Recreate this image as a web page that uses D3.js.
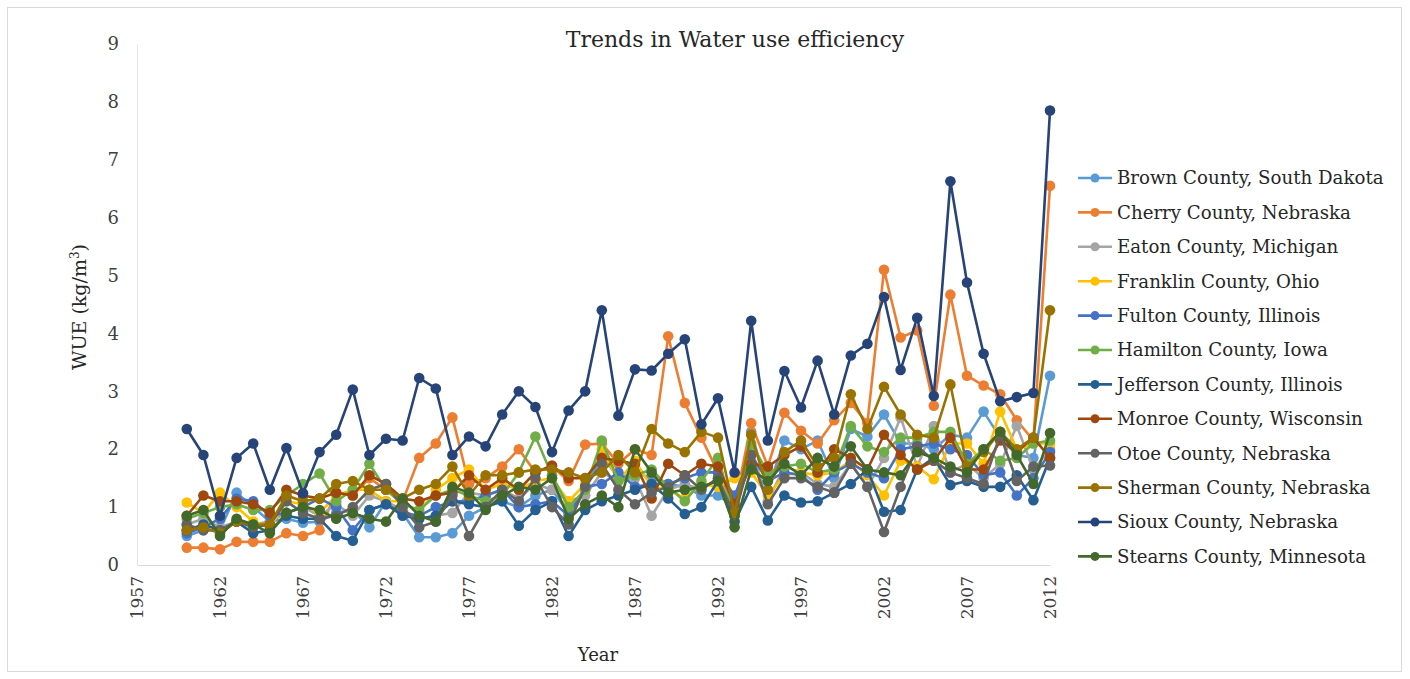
<!DOCTYPE html>
<html><head><meta charset="utf-8">
<script src="https://cdn.jsdelivr.net/npm/d3@7"></script>
<style>body{margin:0;background:#fff;}svg{display:block;font-family:"DejaVu Serif",serif;}</style>
</head><body><svg id="c" width="1410" height="679"></svg>
<script>
const years = d3.range(1960, 2013);
const seriesNames = ["Brown County, South Dakota","Cherry County, Nebraska","Eaton County, Michigan","Franklin County, Ohio","Fulton County, Illinois","Hamilton County, Iowa","Jefferson County, Illinois","Monroe County, Wisconsin","Otoe County, Nebraska","Sherman County, Nebraska","Sioux County, Nebraska","Stearns County, Minnesota"];
const seriesColors = ["#5B9BD5","#ED7D31","#A5A5A5","#FFC000","#4472C4","#70AD47","#255E91","#9E480E","#636363","#997300","#264478","#43682B"];
const xTicks = [1957,1962,1967,1972,1977,1982,1987,1992,1997,2002,2007,2012];
const yTicks = [0,1,2,3,4,5,6,7,8,9];

const brown = [0.5,0.6,0.6,1.25,1.0,0.75,0.8,0.73,0.75,0.9,0.95,0.65,1.1,0.9,0.48,0.48,0.55,0.85,1.0,1.1,1.0,1.2,1.3,0.9,1.3,1.9,1.5,1.6,1.5,1.4,1.35,1.2,1.2,1.0,2.3,1.3,2.15,2.0,2.15,1.5,2.35,2.22,2.6,2.1,2.1,2.0,2.25,2.2,2.65,2.2,1.9,1.85,3.27];
const cherry = [0.3,0.3,0.27,0.4,0.4,0.4,0.55,0.5,0.6,1.25,1.2,1.5,1.3,1.1,1.85,2.1,2.55,1.4,1.5,1.7,2.0,1.6,1.7,1.45,2.08,2.1,1.75,2.0,1.9,3.95,2.8,2.2,1.6,1.0,2.45,1.7,2.63,2.32,2.1,2.5,2.8,2.45,5.1,3.93,4.05,2.75,4.67,3.27,3.1,2.95,2.5,2.15,6.55];
const eaton = [0.7,0.8,0.65,0.75,0.7,0.75,0.9,1.0,0.85,1.05,0.85,1.2,1.1,0.95,0.8,0.85,0.9,1.25,1.2,1.3,1.15,1.4,1.3,1.1,1.2,1.6,1.45,1.5,0.85,1.3,1.4,1.3,1.5,0.9,2.0,1.1,1.7,1.6,1.4,1.35,1.75,1.35,1.85,2.55,1.7,2.4,1.6,1.75,1.5,1.75,2.4,1.65,2.0];
const franklin = [1.08,0.9,1.25,1.0,0.75,0.65,1.1,1.05,0.9,1.2,1.3,1.3,1.1,1.1,0.9,1.3,1.5,1.65,1.3,1.4,1.3,1.45,1.5,1.1,1.4,2.0,1.45,1.8,1.35,1.3,1.15,1.4,1.35,1.5,1.6,1.2,1.55,1.6,1.55,1.6,1.8,1.55,1.2,1.8,1.7,1.48,2.1,2.1,1.75,2.65,2.0,2.1,2.1];
const fulton = [0.55,0.65,0.8,1.15,1.1,0.85,0.9,1.0,1.15,1.0,0.6,0.95,1.05,0.9,0.85,1.0,1.1,1.1,1.2,1.3,1.0,1.05,1.1,0.85,1.35,1.4,1.6,1.35,1.4,1.4,1.5,1.6,1.6,1.2,1.9,1.45,1.6,1.55,1.3,1.6,1.75,1.6,1.5,2.0,2.05,2.1,2.0,1.9,1.55,1.6,1.2,1.5,1.95];
const hamilton = [0.8,0.9,1.0,1.05,0.95,0.95,1.2,1.4,1.58,1.1,1.3,1.75,1.3,1.05,0.95,1.2,1.3,1.2,1.1,1.2,1.6,2.22,1.55,1.0,1.3,2.15,1.45,1.55,1.65,1.35,1.1,1.45,1.85,0.85,2.1,1.6,1.7,1.75,1.6,1.65,2.4,2.05,1.95,2.2,2.2,2.3,2.3,1.75,2.0,1.8,1.85,2.1,2.15];
const jefferson = [0.6,0.7,0.6,0.75,0.55,0.6,0.85,0.8,0.8,0.5,0.42,0.95,1.05,0.85,0.8,0.85,1.1,1.05,1.0,1.1,0.68,0.95,1.1,0.5,0.95,1.1,1.2,1.3,1.4,1.15,0.88,1.0,1.45,0.75,1.35,0.77,1.2,1.08,1.1,1.25,1.4,1.65,0.92,0.95,1.65,1.85,1.38,1.45,1.35,1.35,1.55,1.12,1.85];
const monroe = [0.85,1.2,1.1,1.1,1.05,0.9,1.3,1.2,1.15,1.25,1.2,1.55,1.4,1.15,1.1,1.2,1.25,1.55,1.3,1.5,1.3,1.6,1.72,1.5,1.5,1.85,1.8,1.75,1.15,1.75,1.55,1.75,1.7,1.05,1.75,1.7,1.9,2.05,1.6,2.0,1.85,1.65,2.25,1.9,1.65,1.8,2.2,1.65,1.65,2.15,1.95,2.2,1.85];
const otoe = [0.7,0.6,0.6,0.75,0.65,0.7,1.1,0.9,0.8,0.85,1.0,1.3,1.4,1.0,0.65,0.75,1.2,0.5,1.0,1.3,1.1,1.5,1.0,0.7,1.35,1.75,1.3,1.05,1.25,1.35,1.55,1.3,1.5,0.85,1.9,1.05,1.5,1.5,1.35,1.25,1.75,1.35,0.57,1.35,2.05,1.8,1.6,1.5,1.4,2.25,1.45,1.7,1.72];
const sherman = [0.6,0.65,0.55,0.75,0.7,0.7,1.2,1.1,1.15,1.4,1.45,1.3,1.3,1.15,1.3,1.4,1.7,1.2,1.55,1.55,1.6,1.65,1.65,1.6,1.5,1.6,1.9,1.6,2.35,2.1,1.95,2.3,2.2,0.9,2.25,1.3,1.95,2.15,1.7,1.85,2.95,2.35,3.08,2.6,2.25,2.2,3.12,1.7,1.95,2.3,2.0,2.2,4.4];
const sioux = [2.35,1.9,0.85,1.85,2.1,1.3,2.02,1.24,1.95,2.25,3.03,1.9,2.18,2.15,3.23,3.05,1.9,2.22,2.05,2.6,3.0,2.73,1.95,2.67,3.0,4.4,2.58,3.38,3.36,3.65,3.9,2.43,2.88,1.6,4.22,2.15,3.35,2.72,3.53,2.6,3.62,3.82,4.63,3.37,4.27,2.92,6.63,4.88,3.65,2.83,2.9,2.97,7.85];
const stearns = [0.85,0.95,0.5,0.8,0.7,0.55,0.9,1.0,0.95,0.8,0.9,0.8,0.75,1.15,0.85,0.75,1.35,1.25,0.95,1.2,1.35,1.3,1.5,0.8,1.05,1.2,1.0,2.0,1.6,1.25,1.3,1.35,1.45,0.65,1.65,1.45,1.75,1.55,1.85,1.7,2.05,1.65,1.6,1.55,1.95,1.85,1.7,1.6,2.0,2.3,1.9,1.4,2.28];

const seriesValues = [brown,cherry,eaton,franklin,fulton,hamilton,jefferson,monroe,otoe,sherman,sioux,stearns];

const svg = d3.select("#c");
svg.append("rect").attr("x",7.5).attr("y",7.5).attr("width",1394).attr("height",664)
  .attr("fill","#fff").attr("stroke","#d9d9d9").attr("stroke-width",1);

const x = d3.scaleLinear().domain([1957,2012]).range([137,1050]);
const y = d3.scaleLinear().domain([0,9]).range([565,44]);

// axes
const xAxis = svg.append("g").attr("transform",`translate(0,${y(0)})`)
  .call(d3.axisBottom(x).tickValues(xTicks).tickFormat(d3.format("d")).tickSize(0));
xAxis.select(".domain").attr("stroke","#d9d9d9");
xAxis.selectAll("text").attr("font-size",17).attr("fill","#404040")
  .attr("font-family","DejaVu Serif")
  .attr("text-anchor","end").attr("transform","rotate(-90)")
  .attr("x",-11).attr("y",0).attr("dy","0.35em");

const yAxis = svg.append("g").attr("transform",`translate(${x(1957)},0)`)
  .call(d3.axisLeft(y).tickValues(yTicks).tickSize(0).tickPadding(18));
yAxis.select(".domain").attr("stroke","#e6e6e6");
yAxis.selectAll("text").attr("font-size",18).attr("fill","#404040").attr("font-family","DejaVu Serif");

// titles
svg.append("text").attr("x",735).attr("y",47).attr("text-anchor","middle")
  .attr("font-size",22).attr("fill","#262626").text("Trends in Water use efficiency");
svg.append("text").attr("x",598).attr("y",661).attr("text-anchor","middle")
  .attr("font-size",18).attr("fill","#262626").text("Year");
const yt = svg.append("text").attr("transform","translate(86,307) rotate(-90)")
  .attr("text-anchor","middle").attr("font-size",19).attr("fill","#262626");
yt.append("tspan").text("WUE (kg/m");
yt.append("tspan").attr("font-size",12).attr("dy","-0.6em").text("3");
yt.append("tspan").attr("font-size",19).attr("dy","0.4em").text(")");

// series
const line = d3.line().x((d,i)=>x(years[i])).y(d=>y(d));
seriesValues.forEach((vals,si)=>{
  const g = svg.append("g");
  g.append("path").datum(vals).attr("d",line).attr("fill","none")
    .attr("stroke",seriesColors[si]).attr("stroke-width",2.6).attr("stroke-linejoin","round");
  g.selectAll("circle").data(vals).join("circle")
    .attr("cx",(d,i)=>x(years[i])).attr("cy",d=>y(d)).attr("r",5.3)
    .attr("fill",seriesColors[si]);
});

// legend
const lg = svg.append("g");
seriesNames.forEach((n,i)=>{
  const yy = 178 + i*34.4;
  lg.append("line").attr("x1",1078).attr("x2",1112).attr("y1",yy).attr("y2",yy)
    .attr("stroke",seriesColors[i]).attr("stroke-width",2.6);
  lg.append("circle").attr("cx",1095).attr("cy",yy).attr("r",4.5).attr("fill",seriesColors[i]);
  lg.append("text").attr("x",1117).attr("y",yy).attr("dy","0.35em")
    .attr("font-size",18.2).attr("fill","#262626").text(n);
});
</script></body></html>
